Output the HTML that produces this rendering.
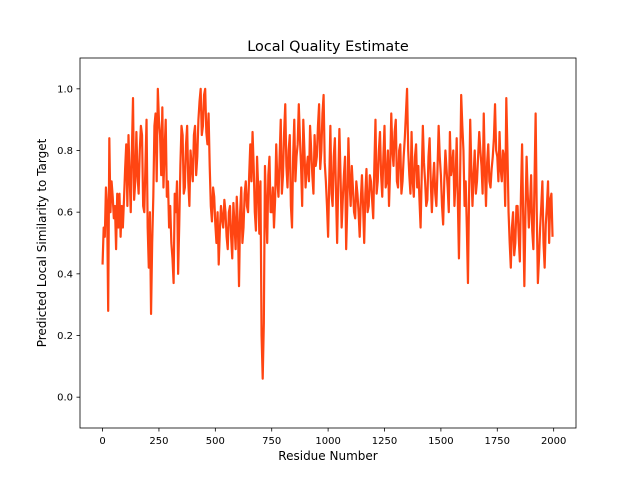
<!DOCTYPE html>
<html><head><meta charset="utf-8"><style>
body{margin:0;background:#fff}
svg text{font-family:"DejaVu Sans","Liberation Sans",sans-serif;fill:#000}
</style></head><body>
<svg id="chart" width="640" height="480" xmlns="http://www.w3.org/2000/svg">
<rect width="640" height="480" fill="#fff"/>
<text x="328" y="51" font-size="14.4" text-anchor="middle">Local Quality Estimate</text>
<text x="328" y="460" font-size="12" text-anchor="middle">Residue Number</text>
<text transform="translate(46,243) rotate(-90)" font-size="12" text-anchor="middle">Predicted Local Similarity to Target</text>
<g id="ticks"></g>
<path id="series" fill="none" stroke="#ff4512" stroke-width="2.2" stroke-linejoin="round"/>
<rect x="80" y="58" width="496" height="370" fill="none" stroke="#000" stroke-width="0.8"/>
</svg>
<script>
const residueStep = 5;
const scores = [
0.43,0.55,0.52,0.68,0.62,0.28,0.84,0.60,0.70,0.65,0.58,0.62,0.48,0.66,0.55,0.66,0.52,0.62,0.55,0.64,
0.74,0.82,0.62,0.85,0.72,0.60,0.80,0.97,0.64,0.70,0.86,0.72,0.66,0.80,0.88,0.85,0.62,0.60,0.75,0.90,
0.55,0.42,0.60,0.27,0.50,0.65,0.88,0.92,0.70,1.0,0.90,0.85,0.72,0.94,0.68,0.80,0.90,0.65,0.70,0.55,
0.62,0.50,0.45,0.37,0.66,0.60,0.70,0.40,0.56,0.75,0.88,0.85,0.66,0.68,0.82,0.88,0.70,0.62,0.80,0.75,
0.70,0.85,0.88,0.72,0.78,0.90,0.96,1.0,0.85,0.88,0.98,1.0,0.86,0.82,0.92,0.75,0.62,0.57,0.68,0.65,
0.56,0.50,0.60,0.43,0.54,0.62,0.58,0.55,0.64,0.60,0.52,0.48,0.60,0.62,0.52,0.45,0.63,0.56,0.48,0.65,
0.56,0.36,0.60,0.68,0.50,0.55,0.66,0.70,0.62,0.60,0.72,0.82,0.70,0.86,0.75,0.60,0.54,0.78,0.68,0.53,
0.70,0.20,0.06,0.24,0.75,0.62,0.50,0.72,0.78,0.60,0.60,0.68,0.55,0.64,0.82,0.70,0.65,0.78,0.90,0.66,
0.72,0.86,0.95,0.75,0.68,0.80,0.85,0.62,0.55,0.78,0.90,0.70,0.78,0.82,0.95,0.84,0.75,0.62,0.90,0.80,
0.68,0.74,0.78,0.70,0.88,0.80,0.72,0.66,0.85,0.75,0.78,0.88,0.95,0.74,0.80,0.92,0.98,0.76,0.70,0.62,
0.52,0.70,0.88,0.66,0.62,0.78,0.84,0.66,0.50,0.70,0.87,0.72,0.55,0.64,0.72,0.78,0.48,0.62,0.84,0.70,
0.62,0.75,0.68,0.60,0.58,0.70,0.66,0.60,0.52,0.64,0.72,0.62,0.50,0.66,0.74,0.60,0.62,0.72,0.70,0.64,
0.58,0.75,0.90,0.66,0.70,0.80,0.86,0.72,0.65,0.78,0.88,0.68,0.70,0.80,0.62,0.74,0.92,0.80,0.75,0.86,
0.90,0.70,0.68,0.80,0.82,0.66,0.70,0.78,0.84,0.92,1.0,0.80,0.72,0.66,0.86,0.70,0.65,0.78,0.82,0.68,
0.75,0.64,0.55,0.72,0.88,0.76,0.70,0.62,0.64,0.78,0.84,0.70,0.60,0.70,0.76,0.66,0.62,0.74,0.88,0.78,
0.72,0.62,0.56,0.70,0.80,0.74,0.68,0.60,0.86,0.72,0.75,0.80,0.62,0.70,0.84,0.64,0.45,0.70,0.98,0.88,
0.80,0.62,0.70,0.55,0.37,0.66,0.90,0.74,0.62,0.72,0.80,0.66,0.70,0.78,0.86,0.80,0.75,0.66,0.92,0.74,
0.62,0.76,0.82,0.70,0.68,0.74,0.78,0.84,0.95,0.80,0.78,0.70,0.86,0.74,0.70,0.80,0.78,0.62,0.97,0.80,
0.60,0.50,0.42,0.55,0.60,0.46,0.50,0.62,0.62,0.52,0.44,0.66,0.82,0.58,0.36,0.60,0.78,0.66,0.55,0.62,
0.72,0.54,0.48,0.70,0.92,0.60,0.37,0.45,0.55,0.62,0.70,0.50,0.42,0.56,0.62,0.70,0.50,0.64,0.66,0.52];
const xTicks = [0,250,500,750,1000,1250,1500,1750,2000];
const yTicks = [0.0,0.2,0.4,0.6,0.8,1.0];
const X0=80,X1=576,Y0=428,Y1=58,xmin=-100,xmax=2099,ymin=-0.1,ymax=1.1;
function xs(v){return X0+(v-xmin)/(xmax-xmin)*(X1-X0);}
function ys(v){return Y0-(v-ymin)/(ymax-ymin)*(Y0-Y1);}
const NS="http://www.w3.org/2000/svg";
const g=document.getElementById('ticks');
xTicks.forEach(t=>{
  const l=document.createElementNS(NS,'line');
  l.setAttribute('x1',xs(t));l.setAttribute('x2',xs(t));l.setAttribute('y1',Y0);l.setAttribute('y2',Y0+3.5);
  l.setAttribute('stroke','#000');l.setAttribute('stroke-width','0.8');
  
  
  g.appendChild(l);
  const tx=document.createElementNS(NS,'text');
  tx.setAttribute('x',xs(t));tx.setAttribute('y',Y0+16);tx.setAttribute('font-size','10');tx.setAttribute('text-anchor','middle');
  tx.textContent=t;
  
  
  g.appendChild(tx);
});
yTicks.forEach(t=>{
  const l=document.createElementNS(NS,'line');
  l.setAttribute('x1',X0-3.5);l.setAttribute('x2',X0);l.setAttribute('y1',ys(t));l.setAttribute('y2',ys(t));
  l.setAttribute('stroke','#000');l.setAttribute('stroke-width','0.8');
  
  
  g.appendChild(l);
  const tx=document.createElementNS(NS,'text');
  tx.setAttribute('x',X0-7);tx.setAttribute('y',ys(t)+3.5);tx.setAttribute('font-size','10');tx.setAttribute('text-anchor','end');
  tx.textContent=t.toFixed(1);
  
  
  g.appendChild(tx);
});
document.getElementById('series').setAttribute('d',scores.map((s,i)=>(i?'L':'M')+xs(i*residueStep).toFixed(2)+','+ys(s).toFixed(2)).join(''));
</script>
</body></html>
